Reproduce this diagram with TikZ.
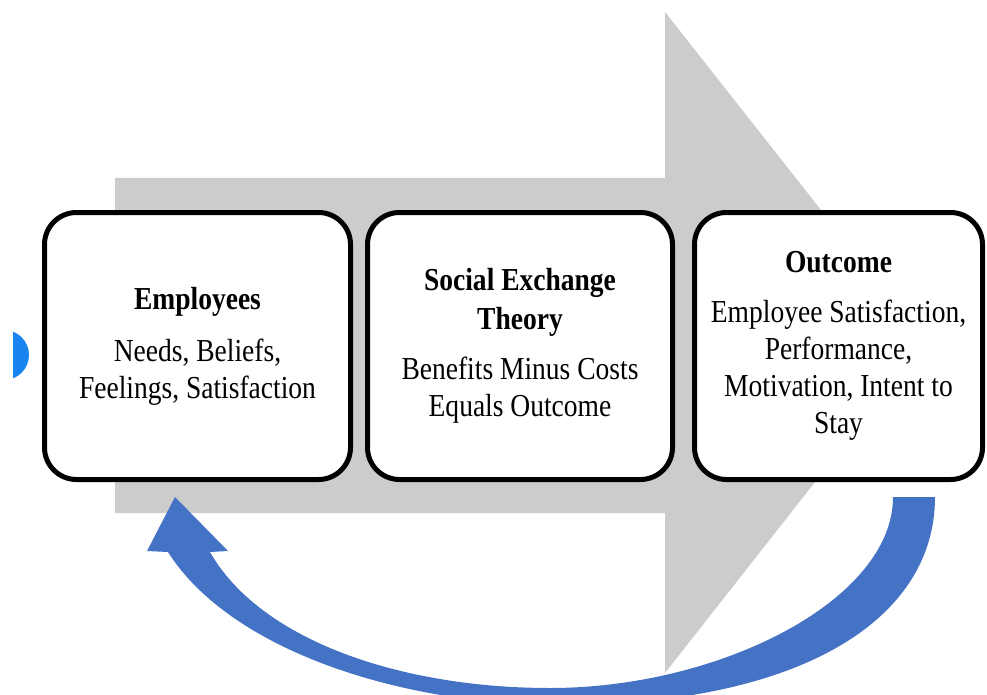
\documentclass[tikz,border=0pt]{standalone}
\usepackage{fontspec}
\setmainfont{Liberation Serif}[FakeStretch=0.86]
\usepackage{xcolor}
\usepackage{tikz}
\definecolor{arrowgray}{RGB}{204,204,204}
\definecolor{loopblue}{RGB}{68,114,196}
\definecolor{dotblue}{RGB}{24,132,240}

\begin{document}
\begin{tikzpicture}[x=1pt, y=-1pt, every node/.style={draw=black, line width=5pt, rounded corners=32pt, fill=white, align=center, inner sep=0pt, minimum height=267pt, font=\fontsize{32}{37}\selectfont}]
  \useasboundingbox (0,0) rectangle (987,695);
  \fill[arrowgray] (115,178) -- (665,178) -- (665,12) -- (925,342) -- (665,673) -- (665,513) -- (115,513) -- cycle;
  \begin{scope}
    \clip (13,320) rectangle (40,390);
    \fill[dotblue] (4,355) circle (25pt);
  \end{scope}
  \fill[loopblue] (935,497) .. controls (935,620) and (800,705) .. (560,705) .. controls (400,705) and (230,650) .. (168,552) -- (147,551) -- (175,497) -- (228,551) -- (210,552) .. controls (260,640) and (400,688) .. (550,688) .. controls (720,688) and (893,600) .. (893,497) -- cycle;
  \node[minimum width=306pt] (employees) at (197.5,346) {\textbf{Employees}\\[15pt]Needs, Beliefs,\\Feelings, Satisfaction};
  \node[minimum width=305pt] (theory) at (520,346) {\textbf{Social Exchange}\\[2pt]\textbf{Theory}\\[13pt]Benefits Minus Costs\\Equals Outcome};
  \node[minimum width=288pt] (outcome) at (838.5,346) {\textbf{Outcome}\\[13pt]Employee Satisfaction,\\Performance,\\Motivation, Intent to\\Stay};
\end{tikzpicture}
\end{document}
